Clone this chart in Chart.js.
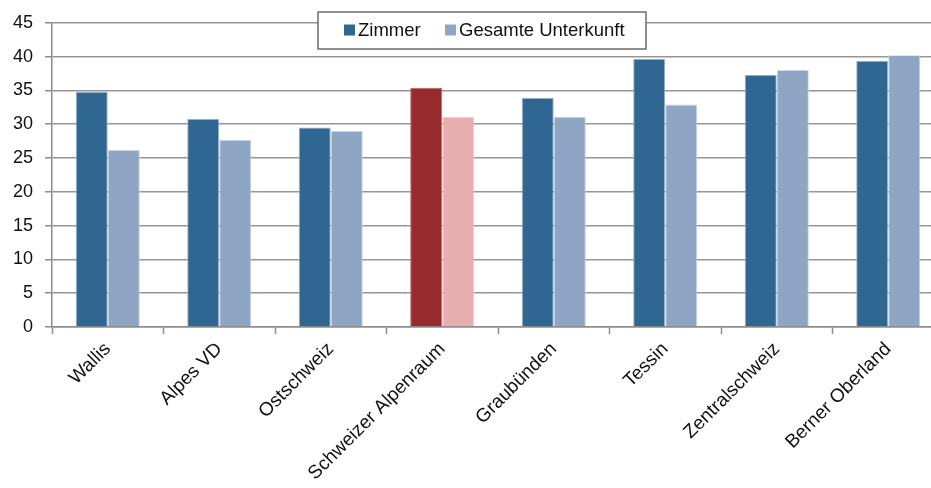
<!DOCTYPE html>
<html>
<head>
<meta charset="utf-8">
<script src="https://cdn.jsdelivr.net/npm/chart.js@4/dist/chart.umd.min.js"></script>
<style>
  html, body { margin: 0; padding: 0; background: #fff; overflow: hidden; }
  #wrap { position: relative; width: 944px; height: 488px; }
</style>
</head>
<body>
<div id="wrap"><canvas id="chart"></canvas></div>
<script>
// Regions and average values per region
const regions = ['Wallis', 'Alpes VD', 'Ostschweiz', 'Schweizer Alpenraum', 'Graubünden', 'Tessin', 'Zentralschweiz', 'Berner Oberland'];
const zimmer = [34.8, 30.8, 29.5, 35.4, 33.9, 39.7, 37.3, 39.4];
const gesamteUnterkunft = [26.2, 27.7, 29.0, 31.1, 31.1, 32.9, 38.0, 40.2];
const seriesNames = ['Zimmer', 'Gesamte Unterkunft'];
const yTicks = [0, 5, 10, 15, 20, 25, 30, 35, 40, 45];

// The overall alpine region is highlighted in red tones
const highlight = 'Schweizer Alpenraum';
const darkBlue = '#2f6692', lightBlue = '#8ea5c3';
const darkRed = '#962a2c', lightRed = '#e6afae';
const colorsFor = (base, hi) => regions.map(r => r === highlight ? hi : base);

const FONT = "'Liberation Sans', Arial, sans-serif";

// Legend drawn as a framed white box laid over the top of the plot
const boxLegend = {
  id: 'boxLegend',
  afterDraw(chart) {
    const ctx = chart.ctx;
    const x0 = 318, y0 = 12, w = 328, h = 37;
    ctx.save();
    ctx.fillStyle = '#fff';
    ctx.fillRect(x0, y0, w, h);
    ctx.strokeStyle = '#6b6b6b';
    ctx.lineWidth = 1.5;
    ctx.strokeRect(x0, y0, w, h);
    ctx.font = '18.5px ' + FONT;
    ctx.textBaseline = 'middle';
    const cy = y0 + h / 2;
    const items = [
      { label: seriesNames[0], color: darkBlue, x: 344 },
      { label: seriesNames[1], color: lightBlue, x: 445 }
    ];
    items.forEach(it => {
      ctx.fillStyle = it.color;
      ctx.fillRect(it.x, cy - 6, 11, 11);
      ctx.fillStyle = '#111';
      ctx.fillText(it.label, it.x + 14, cy + 0.5);
    });
    ctx.restore();
  }
};

new Chart(document.getElementById('chart'), {
  type: 'bar',
  data: {
    labels: regions,
    datasets: [
      {
        label: seriesNames[0],
        data: zimmer,
        backgroundColor: colorsFor(darkBlue, darkRed),
        borderColor: colorsFor('#9fb6cc', '#b86a6b'),
        borderWidth: 1
      },
      {
        label: seriesNames[1],
        data: gesamteUnterkunft,
        backgroundColor: colorsFor(lightBlue, lightRed),
        borderColor: colorsFor('#c9d5e3', '#f1d2d1'),
        borderWidth: 1
      }
    ]
  },
  options: {
    responsive: true,
    maintainAspectRatio: false,
    animation: false,
    layout: { padding: { top: 14, right: 0, left: 0, bottom: 0 } },
    datasets: {
      bar: { categoryPercentage: 0.575, barPercentage: 1.0 }
    },
    plugins: {
      legend: { display: false },
      tooltip: { enabled: false }
    },
    scales: {
      x: {
        offset: true,
        grid: {
          display: true,
          offset: true,
          drawOnChartArea: false,
          drawTicks: true,
          tickLength: 7,
          tickColor: '#8c8c8c',
          tickWidth: 1.5
        },
        border: { color: '#8c8c8c', width: 1.5 },
        ticks: {
          autoSkip: false,
          maxRotation: 45,
          minRotation: 45,
          padding: 4,
          color: '#111',
          font: { family: FONT, size: 19 }
        },
        afterFit(scale) { scale.height = 161; }
      },
      y: {
        min: 0,
        max: 45,
        afterBuildTicks(scale) { scale.ticks = yTicks.map(v => ({ value: v })); },
        grid: {
          color: '#969696',
          lineWidth: 1.5,
          drawTicks: true,
          tickLength: 7,
          tickColor: '#8c8c8c'
        },
        border: { color: '#8c8c8c', width: 1.5 },
        ticks: {
          padding: 12,
          color: '#111',
          font: { family: FONT, size: 18 }
        },
        afterFit(scale) { scale.width = 52; }
      }
    }
  },
  plugins: [boxLegend]
});
</script>
</body>
</html>
